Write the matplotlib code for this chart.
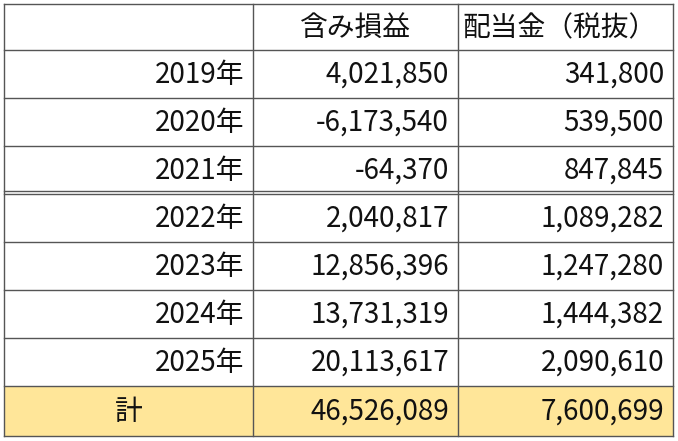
import matplotlib
matplotlib.use("Agg")
import matplotlib.pyplot as plt

plt.rcParams['font.family'] = ['Noto Sans CJK JP', 'DejaVu Sans']

headers = ["", "含み損益", "配当金（税抜）"]
years = ["2019年", "2020年", "2021年", "2022年", "2023年", "2024年", "2025年"]
gains = [4021850, -6173540, -64370, 2040817, 12856396, 13731319, 20113617]
dividends = [341800, 539500, 847845, 1089282, 1247280, 1444382, 2090610]
total_label = "計"
total_gain = 46526089
total_div = 7600699

W, H = 678, 441
fig = plt.figure(figsize=(W/100, H/100), dpi=100)
ax = fig.add_axes([0, 0, 1, 1])
ax.set_xlim(0, W); ax.set_ylim(H, 0); ax.axis('off')

cols = [4, 253, 458, 673]
rows = [4, 50, 98, 146, 194, 242, 290, 338, 386, 436]
fs = 20

ax.add_patch(plt.Rectangle((cols[0], rows[-2]), cols[-1]-cols[0], rows[-1]-rows[-2],
                           facecolor='#FFE699', edgecolor='none'))
for y in rows:
    ax.plot([cols[0], cols[-1]], [y, y], color='#555555', lw=1)
ax.plot([cols[0], cols[-1]], [rows[4]-3, rows[4]-3], color='#555555', lw=1)
for x in cols:
    ax.plot([x, x], [rows[0], rows[-1]], color='#555555', lw=1)

pad = 9
def cell(r, c, text, ha='right'):
    yc = (rows[r] + rows[r+1]) / 2 + 1
    if ha == 'right':
        x = cols[c+1] - pad
    elif ha == 'center':
        x = (cols[c] + cols[c+1]) / 2
    else:
        x = cols[c] + 4
    ax.text(x, yc, text, ha=ha, va='center', fontsize=fs, color='#111111')

cell(0, 1, headers[1], 'center')
cell(0, 2, headers[2], 'left')
for i, (y, g, d) in enumerate(zip(years, gains, dividends)):
    cell(i+1, 0, y)
    cell(i+1, 1, f"{g:,}")
    cell(i+1, 2, f"{d:,}")
cell(8, 0, total_label, 'center')
cell(8, 1, f"{total_gain:,}")
cell(8, 2, f"{total_div:,}")

fig.savefig("out.png", dpi=100, facecolor='white')
